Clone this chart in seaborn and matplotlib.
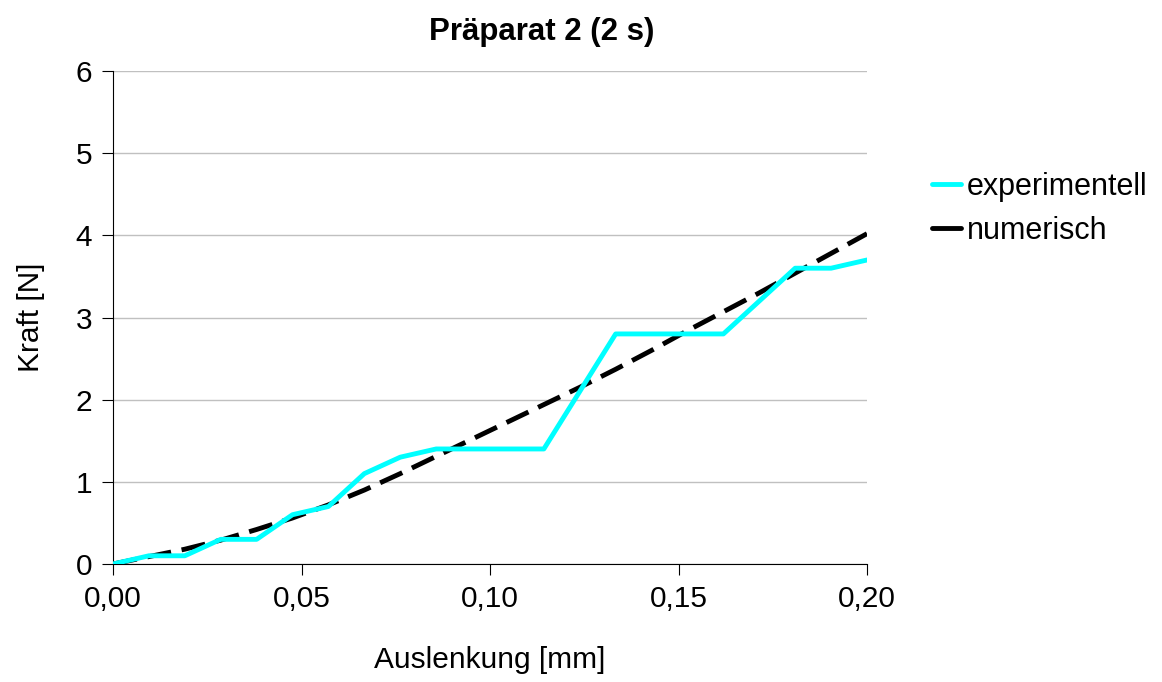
import numpy as np
import pandas as pd
import seaborn as sns
import matplotlib.pyplot as plt
from matplotlib.lines import Line2D
from matplotlib.ticker import FuncFormatter

# Auslenkung in mm, 22 samples from 0 to 0.2
auslenkung = [i * 0.2 / 21 for i in range(22)]
experimentell = [0.0, 0.1, 0.1, 0.3, 0.3, 0.6, 0.7, 1.1, 1.3, 1.4, 1.4,
                 1.4, 1.4, 2.1, 2.8, 2.8, 2.8, 2.8, 3.2, 3.6, 3.6, 3.7]
numerisch = [0.0, 0.09, 0.18, 0.29, 0.42, 0.56, 0.72, 0.90, 1.10, 1.31, 1.52,
             1.73, 1.94, 2.15, 2.37, 2.60, 2.84, 3.07, 3.30, 3.54, 3.78, 4.02]
x_ticks = [0.0, 0.05, 0.10, 0.15, 0.20]
y_ticks = [0, 1, 2, 3, 4, 5, 6]

sns.set_theme(style="white")
plt.rcParams["font.family"] = ["Liberation Sans", "DejaVu Sans"]
FS = 21.5

df = pd.DataFrame({
    "x": auslenkung * 2,
    "Kraft": experimentell + numerisch,
    "Serie": ["experimentell"] * 22 + ["numerisch"] * 22,
})

fig = plt.figure(figsize=(11.62, 6.82), dpi=100)
ax = fig.add_axes([113 / 1162, 1 - 564 / 682, 754 / 1162, 493 / 682])

sns.lineplot(data=df, x="x", y="Kraft", hue="Serie", style="Serie",
             palette={"experimentell": "#00ffff", "numerisch": "#000000"},
             dashes={"experimentell": "", "numerisch": (5.0, 2.2)},
             linewidth=3.5, ax=ax, legend=False, zorder=3)
# cyan line on top
ax.lines[0].set_zorder(4)

ax.set_xlim(0, 0.2)
ax.set_ylim(0, 6)
ax.set_xticks(x_ticks)
ax.set_yticks(y_ticks)
ax.xaxis.set_major_formatter(FuncFormatter(lambda v, p: f"{v:.2f}".replace(".", ",")))
ax.yaxis.grid(True, color="#c0c0c0", linewidth=1.0)
ax.set_axisbelow(True)
for s in ["top", "right"]:
    ax.spines[s].set_visible(False)
for s in ["left", "bottom"]:
    ax.spines[s].set_color("black")
    ax.spines[s].set_linewidth(0.8)
ax.tick_params(axis="both", direction="out", length=8, width=0.8, color="black",
               labelsize=FS, pad=7, bottom=True, left=True, labelcolor="black")

ax.set_xlabel("Auslenkung [mm]", fontsize=FS, labelpad=24, color="black")
ax.set_ylabel("Kraft [N]", fontsize=FS, labelpad=22, color="black")
ax.set_title("Präparat 2 (2 s)", fontsize=22.5, fontweight="bold", pad=22,
             color="black", x=0.568)

handles = [Line2D([], [], color="#00ffff", linewidth=3.5),
           Line2D([], [], color="black", linewidth=3.5)]
ax.legend(handles, ["experimentell", "numerisch"], loc="center left",
          bbox_to_anchor=(1.086, 0.72), frameon=False, fontsize=22,
          handlelength=0.95, handletextpad=0.2, labelspacing=0.45,
          borderpad=0, borderaxespad=0, labelcolor="black")

fig.savefig("out.png", dpi=100)
